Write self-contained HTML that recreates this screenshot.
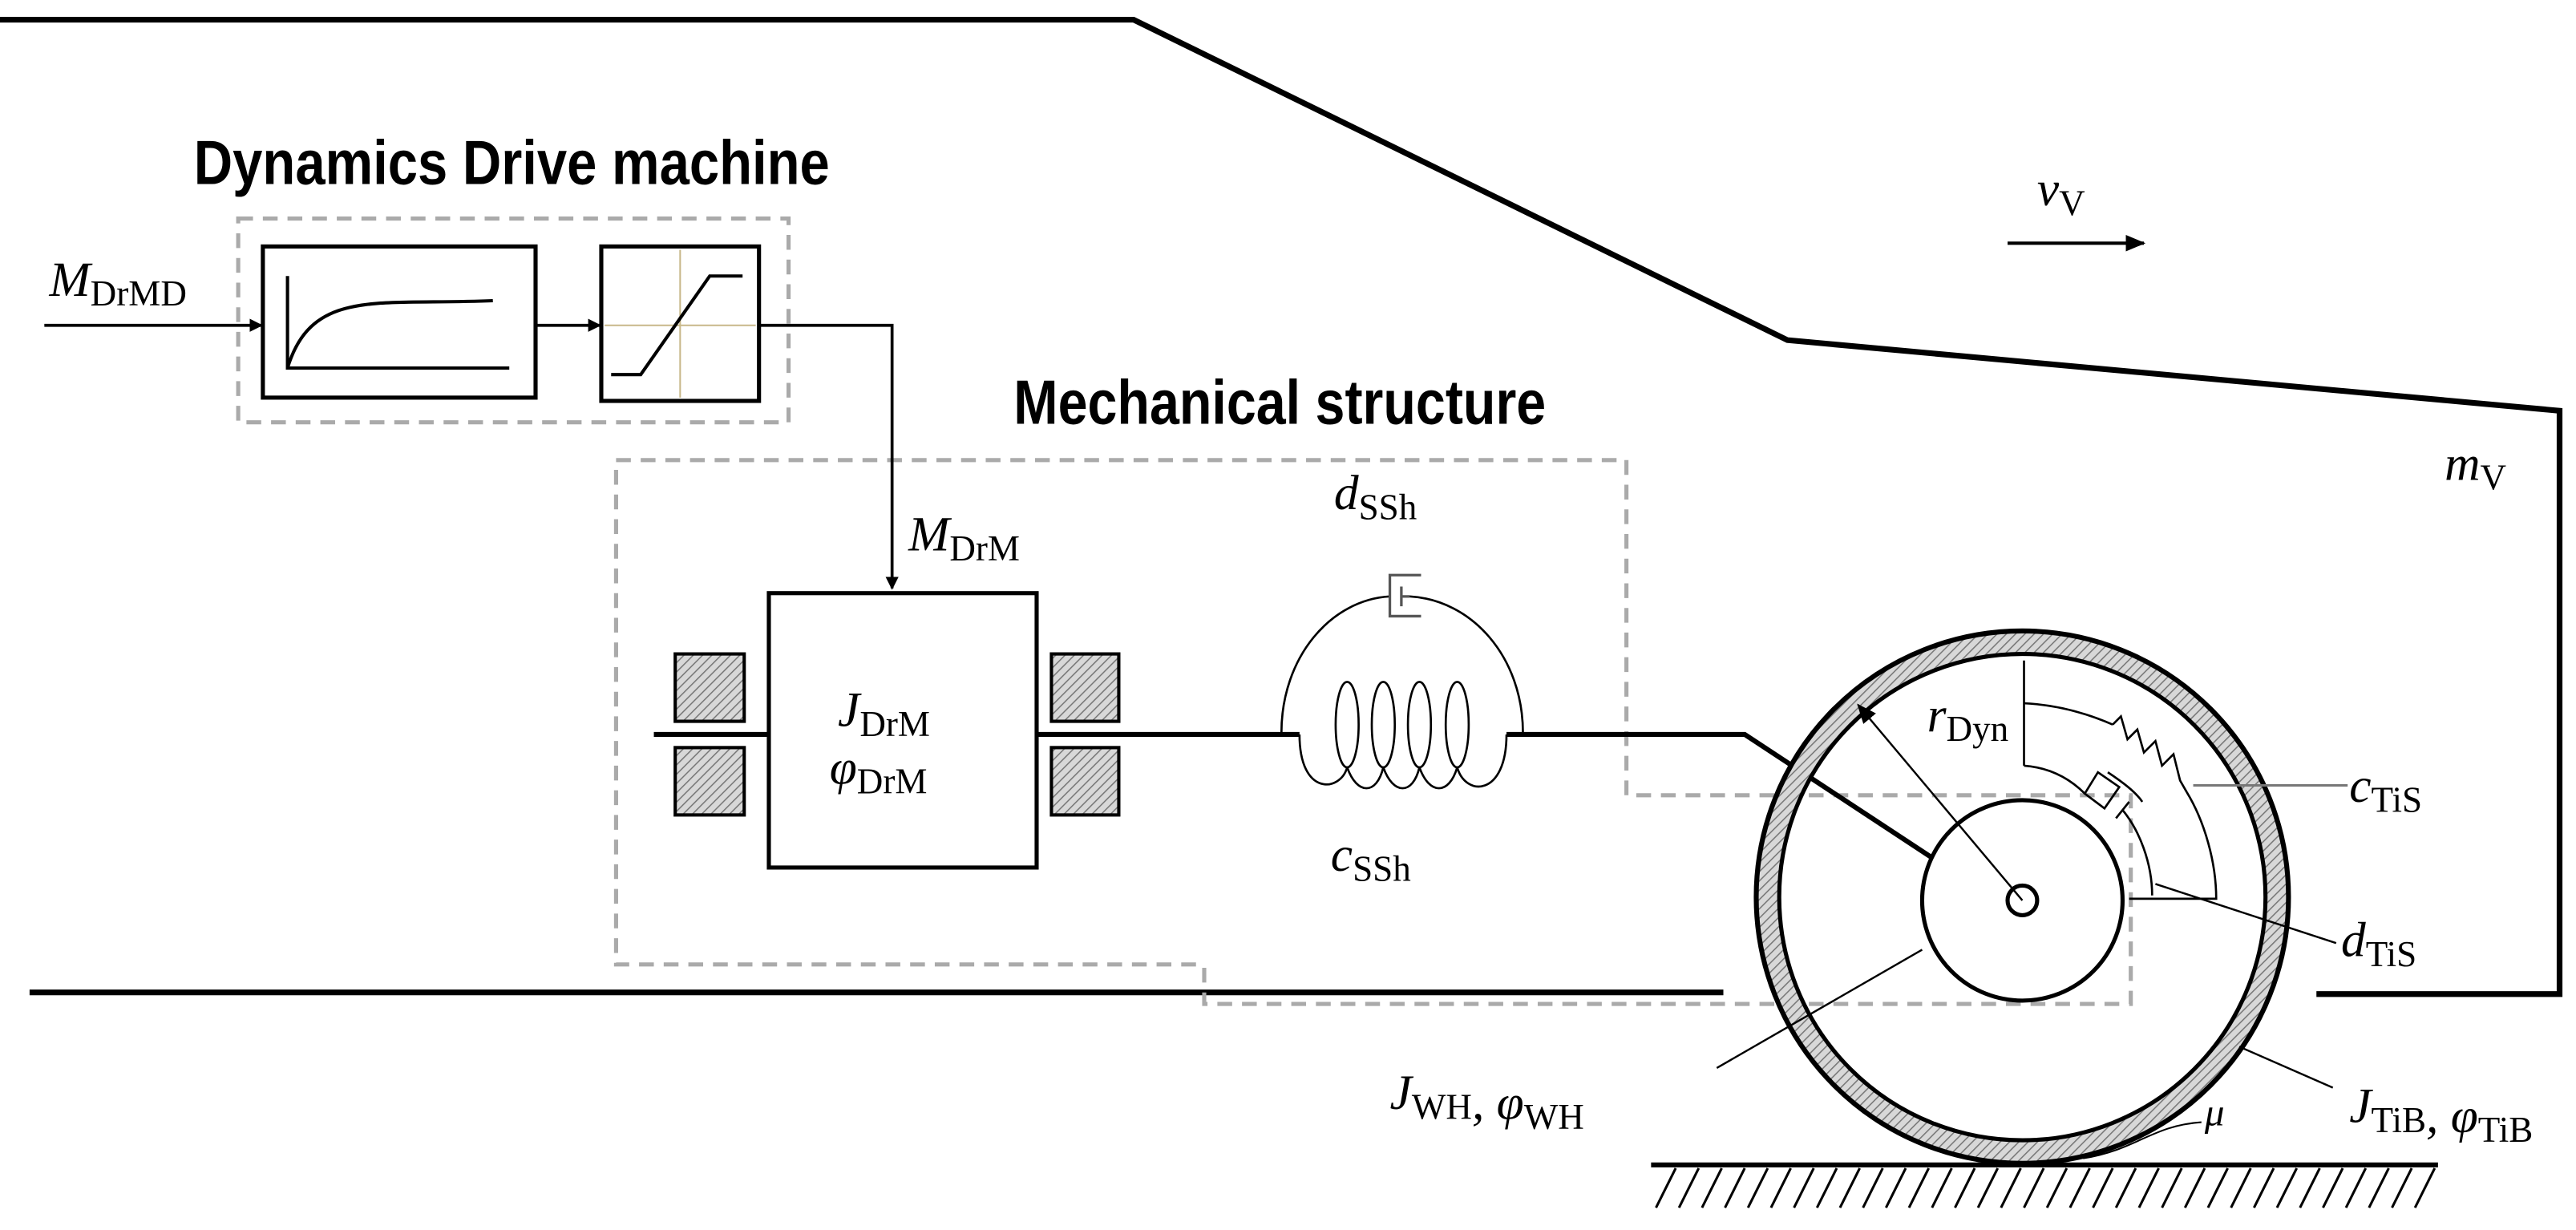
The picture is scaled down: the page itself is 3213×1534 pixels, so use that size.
<!DOCTYPE html>
<html><head><meta charset="utf-8"><style>
html,body{margin:0;padding:0;background:#fff;}
svg{display:block;}
.v{font-family:"Liberation Serif",serif;font-style:italic;font-size:30px;}
.s{font-family:"Liberation Serif",serif;font-style:normal;font-size:22px;}
.t{font-family:"Liberation Sans Narrow","Liberation Sans",sans-serif;font-weight:bold;font-size:38px;}
</style></head><body>
<svg width="3213" height="1534" viewBox="0 0 1568 748.6" preserveAspectRatio="none" xmlns="http://www.w3.org/2000/svg">
<defs>
<pattern id="h" width="4" height="4" patternUnits="userSpaceOnUse" patternTransform="rotate(45)">
<rect width="4" height="4" fill="#d8d8d8"/><line x1="0" y1="0" x2="0" y2="4" stroke="#777" stroke-width="1.5"/>
</pattern>
<marker id="a" markerWidth="8" markerHeight="8" refX="7" refY="4" orient="auto" markerUnits="userSpaceOnUse"><path d="M0,0 L8,4 L0,8z" fill="#000"/></marker>
<marker id="b" markerWidth="12" markerHeight="10" refX="11" refY="5" orient="auto" markerUnits="userSpaceOnUse"><path d="M0,0 L12,5 L0,10z" fill="#000"/></marker>
</defs>
<polyline points="0,12 690,12 1088,207 1558,250 1558,605 1410,605" fill="none" stroke="#000" stroke-width="3.5"/>
<line x1="18" y1="604" x2="1049" y2="604" stroke="#000" stroke-width="3.5"/>

<text class="t" x="118" y="112" textLength="387" lengthAdjust="spacingAndGlyphs">Dynamics Drive machine</text>
<text class="t" x="617" y="258" textLength="324" lengthAdjust="spacingAndGlyphs">Mechanical structure</text>

<rect x="145" y="133" width="335" height="124" fill="none" stroke="#aaa" stroke-width="2.5" stroke-dasharray="9,6"/>
<polyline points="728,587 375,587 375,280 990,280 990,484 1297,484 1297,611 733,611 733,587" fill="none" stroke="#aaa" stroke-width="2.5" stroke-dasharray="9,6"/>

<rect x="160" y="150" width="166" height="92" fill="#fff" stroke="#000" stroke-width="2.5"/>
<path d="M175,168 L175,224 L310,224 M175,224 C190,175 230,186 300,183" fill="none" stroke="#000" stroke-width="2"/>
<rect x="366" y="150" width="96" height="94" fill="#fff" stroke="#000" stroke-width="2.5"/>
<line x1="414" y1="152" x2="414" y2="242" stroke="#c8b88a" stroke-width="1"/>
<line x1="368" y1="198" x2="460" y2="198" stroke="#c8b88a" stroke-width="1"/>
<polyline points="372,228 390,228 432,168 452,168" fill="none" stroke="#000" stroke-width="2"/>

<line x1="27" y1="198" x2="159" y2="198" stroke="#000" stroke-width="1.8" marker-end="url(#a)"/>
<line x1="326" y1="198" x2="365" y2="198" stroke="#000" stroke-width="1.8" marker-end="url(#a)"/>
<polyline points="462,198 543,198 543,358" fill="none" stroke="#000" stroke-width="1.8" marker-end="url(#a)"/>

<text class="v" x="30" y="180">M<tspan class="s" dy="6">DrMD</tspan></text>
<text class="v" x="553" y="335">M<tspan class="s" dy="6">DrM</tspan></text>

<line x1="398" y1="447" x2="468" y2="447" stroke="#000" stroke-width="3"/>
<line x1="631" y1="447" x2="791" y2="447" stroke="#000" stroke-width="3"/>
<rect x="468" y="361" width="163" height="167" fill="#fff" stroke="#000" stroke-width="2.5"/>
<text class="v" x="510" y="442">J<tspan class="s" dy="6">DrM</tspan></text>
<text class="v" x="505" y="477">φ<tspan class="s" dy="6">DrM</tspan></text>
<rect x="411" y="398" width="42" height="41" fill="url(#h)" stroke="#000" stroke-width="2"/>
<rect x="411" y="455" width="42" height="41" fill="url(#h)" stroke="#000" stroke-width="2"/>
<rect x="640" y="398" width="41" height="41" fill="url(#h)" stroke="#000" stroke-width="2"/>
<rect x="640" y="455" width="41" height="41" fill="url(#h)" stroke="#000" stroke-width="2"/>

<!-- spring/damper -->
<path d="M780,446 C780,400 810,365 846,363 M858,363 C896,365 927,400 927,446" fill="none" stroke="#000" stroke-width="1.3"/>
<path d="M865,350 L846,350 L846,375 L865,375 M853,357 L853,369 M853,363 L858,363" fill="none" stroke="#555" stroke-width="1.6"/>
<g fill="none" stroke="#000" stroke-width="1.3">
<ellipse cx="820" cy="441" rx="7" ry="26"/>
<ellipse cx="842" cy="441" rx="7" ry="26"/>
<ellipse cx="864" cy="441" rx="7" ry="26"/>
<ellipse cx="887" cy="441" rx="7" ry="26"/>
<path d="M791,447 C791,485 816,482 820,467"/>
<path d="M820,467 C826,484 838,484 842,467"/>
<path d="M842,467 C848,484 860,484 864,467"/>
<path d="M864,467 C870,484 882,484 887,467"/>
<path d="M887,467 C892,485 917,485 917,447"/>
</g>
<text class="v" x="812" y="310">d<tspan class="s" dy="6">SSh</tspan></text>
<text class="v" x="810" y="530">c<tspan class="s" dy="6">SSh</tspan></text>

<polyline points="917,447 1062,447 1176,522" fill="none" stroke="#000" stroke-width="3"/>

<!-- wheel -->
<circle cx="1231" cy="546" r="155" fill="none" stroke="url(#h)" stroke-width="14"/>
<circle cx="1231" cy="546" r="162" fill="none" stroke="#000" stroke-width="3"/>
<circle cx="1231" cy="546" r="148" fill="none" stroke="#000" stroke-width="2.5"/>
<circle cx="1231" cy="548" r="61" fill="#fff" stroke="#000" stroke-width="2.5"/>
<circle cx="1231" cy="548" r="9" fill="#fff" stroke="#000" stroke-width="2.5"/>
<line x1="1231" y1="548" x2="1131" y2="429" stroke="#000" stroke-width="1.2" marker-end="url(#b)"/>
<text class="v" x="1173" y="445">r<tspan class="s" dy="6">Dyn</tspan></text>

<g fill="none" stroke="#000" stroke-width="1.3">
<line x1="1232" y1="402" x2="1232" y2="466"/>
<path d="M1232,428 C1252,429 1270,434 1286,441"/>
<path d="M1286,441 L1291,436 L1295,450 L1301,444 L1305,458 L1312,451 L1316,466 L1323,459 L1327,475 L1331,482"/>
<path d="M1331,482 C1342,500 1349,525 1349,547 L1296,547"/>
<path d="M1232,466 C1245,467 1258,472 1269,483"/>
<path d="M1269,483 L1277,470 L1290,479 L1281,492 Z"/>
<path d="M1283,470 C1292,476 1300,482 1304,488 M1288,498 L1296,488 M1292,493 C1302,505 1310,525 1310,545"/>
</g>
<line x1="1335" y1="478" x2="1429" y2="478" stroke="#777" stroke-width="1.5"/>
<line x1="1312" y1="538" x2="1422" y2="574" stroke="#000" stroke-width="1.2"/>
<text class="v" x="1430" y="488">c<tspan class="s" dy="6">TiS</tspan></text>
<text class="v" x="1425" y="582">d<tspan class="s" dy="6">TiS</tspan></text>

<line x1="1170" y1="578" x2="1045" y2="650" stroke="#000" stroke-width="1.2"/>
<line x1="1363" y1="637" x2="1420" y2="662" stroke="#000" stroke-width="1.2"/>
<text class="v" x="846" y="675">J<tspan class="s" dy="6">WH</tspan>, φ<tspan class="s" dy="6">WH</tspan></text>
<text class="v" x="1430" y="683">J<tspan class="s" dy="6">TiB</tspan>, φ<tspan class="s" dy="6">TiB</tspan></text>
<path d="M1268,705 C1300,700 1310,685 1340,683" fill="none" stroke="#000" stroke-width="1"/>
<text class="v" x="1342" y="685" style="font-size:24px">μ</text>

<line x1="1005" y1="709" x2="1484" y2="709" stroke="#000" stroke-width="3"/>
<g stroke="#000" stroke-width="1.5">
<line x1="1020" y1="711" x2="1008" y2="735"/><line x1="1034" y1="711" x2="1022" y2="735"/><line x1="1048" y1="711" x2="1036" y2="735"/><line x1="1062" y1="711" x2="1050" y2="735"/><line x1="1076" y1="711" x2="1064" y2="735"/><line x1="1090" y1="711" x2="1078" y2="735"/><line x1="1104" y1="711" x2="1092" y2="735"/><line x1="1118" y1="711" x2="1106" y2="735"/><line x1="1132" y1="711" x2="1120" y2="735"/><line x1="1146" y1="711" x2="1134" y2="735"/><line x1="1160" y1="711" x2="1148" y2="735"/><line x1="1174" y1="711" x2="1162" y2="735"/><line x1="1188" y1="711" x2="1176" y2="735"/><line x1="1202" y1="711" x2="1190" y2="735"/><line x1="1216" y1="711" x2="1204" y2="735"/><line x1="1230" y1="711" x2="1218" y2="735"/><line x1="1244" y1="711" x2="1232" y2="735"/><line x1="1258" y1="711" x2="1246" y2="735"/><line x1="1272" y1="711" x2="1260" y2="735"/><line x1="1286" y1="711" x2="1274" y2="735"/><line x1="1300" y1="711" x2="1288" y2="735"/><line x1="1314" y1="711" x2="1302" y2="735"/><line x1="1328" y1="711" x2="1316" y2="735"/><line x1="1342" y1="711" x2="1330" y2="735"/><line x1="1356" y1="711" x2="1344" y2="735"/><line x1="1370" y1="711" x2="1358" y2="735"/><line x1="1384" y1="711" x2="1372" y2="735"/><line x1="1398" y1="711" x2="1386" y2="735"/><line x1="1412" y1="711" x2="1400" y2="735"/><line x1="1426" y1="711" x2="1414" y2="735"/><line x1="1440" y1="711" x2="1428" y2="735"/><line x1="1454" y1="711" x2="1442" y2="735"/><line x1="1468" y1="711" x2="1456" y2="735"/><line x1="1482" y1="711" x2="1470" y2="735"/>
</g>

<text class="v" x="1240" y="125">v<tspan class="s" dy="6">V</tspan></text>
<line x1="1222" y1="148" x2="1305" y2="148" stroke="#000" stroke-width="2" marker-end="url(#b)"/>
<text class="v" x="1488" y="292">m<tspan class="s" dy="6">V</tspan></text>
</svg>
</body></html>
